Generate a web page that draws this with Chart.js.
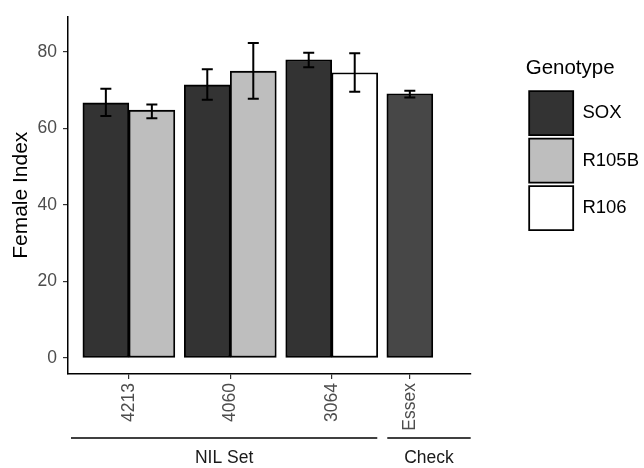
<!DOCTYPE html>
<html>
<head>
<meta charset="utf-8">
<script src="https://cdn.jsdelivr.net/npm/chart.js@4.4.1/dist/chart.umd.min.js"></script>
<style>
  html, body { margin: 0; padding: 0; background: #fff; }
</style>
</head>
<body>
<canvas id="chart" width="644" height="468"></canvas>
<script>
// Female index by NIL set and genotype, Essex as the check

const lines = ['4213', '4060', '3064', 'Essex'];
const linePos = [1, 2, 3, 3.77];
const lineGroup = ['NIL Set', 'NIL Set', 'NIL Set', 'Check'];

const soxMean = [66.7, 71.4, 78.0, null];
const soxLow  = [63.3, 67.5, 76.0, null];
const soxHigh = [70.4, 75.5, 79.8, null];

const r105bMean = [64.8, 75.0, null, null];
const r105bLow  = [62.7, 67.8, null, null];
const r105bHigh = [66.3, 82.4, null, null];

const r106Mean = [null, null, 74.6, null];
const r106Low  = [null, null, 69.6, null];
const r106High = [null, null, 79.7, null];

const checkMean = [null, null, null, 69.1];
const checkLow  = [null, null, null, 68.1];
const checkHigh = [null, null, null, 69.9];

const yTicks = [0, 20, 40, 60, 80];
const genotypes = ['SOX', 'R105B', 'R106'];

Chart.defaults.font.family = "'Liberation Sans', Arial, sans-serif";

function makeSet(label, means, lows, highs, fill) {
    return {
        label: label,
        data: means.map((v, i) => ({ x: linePos[i], y: v })),
        low: lows,
        high: highs,
        backgroundColor: fill,
        borderColor: '#000',
        borderWidth: 1.8,
        borderSkipped: false,
        barThickness: 46,
        skipNull: true
    };
}

// whiskers on top of the bars
const errorBars = {
    id: 'errorBars',
    afterDatasetsDraw(chart) {
        const ctx = chart.ctx;
        const yScale = chart.scales.y;
        ctx.save();
        ctx.strokeStyle = '#000';
        ctx.lineWidth = 2;
        chart.data.datasets.forEach((ds, di) => {
            const meta = chart.getDatasetMeta(di);
            meta.data.forEach((bar, i) => {
                if (ds.low[i] == null) return;
                const top = yScale.getPixelForValue(ds.high[i]);
                const bot = yScale.getPixelForValue(ds.low[i]);
                const cap = 5.5;
                ctx.beginPath();
                ctx.moveTo(bar.x, top); ctx.lineTo(bar.x, bot);
                ctx.moveTo(bar.x - cap, top); ctx.lineTo(bar.x + cap, top);
                ctx.moveTo(bar.x - cap, bot); ctx.lineTo(bar.x + cap, bot);
                ctx.stroke();
            });
        });
        ctx.restore();
    }
};

// group strips under the x labels (NIL Set / Check)
const groupStrips = {
    id: 'groupStrips',
    afterDraw(chart) {
        const { ctx, chartArea } = chart;
        const names = [...new Set(lineGroup)];
        const spans = names.map(name => {
            let left = Infinity, right = -Infinity;
            chart.data.datasets.forEach((ds, di) => {
                chart.getDatasetMeta(di).data.forEach((bar, i) => {
                    if (lineGroup[i] !== name || ds.data[i].y == null) return;
                    left = Math.min(left, bar.x - bar.width / 2);
                    right = Math.max(right, bar.x + bar.width / 2);
                });
            });
            return { left, right };
        });
        const lineY = chartArea.bottom + 64;
        const textY = chartArea.bottom + 84;
        ctx.save();
        ctx.strokeStyle = '#000';
        ctx.lineWidth = 1.5;
        ctx.fillStyle = '#1a1a1a';
        ctx.font = "17.5px 'Liberation Sans', Arial, sans-serif";
        ctx.textAlign = 'center';
        ctx.textBaseline = 'middle';
        names.forEach((name, k) => {
            let a = k === 0 ? chartArea.left + 3 : (spans[k - 1].right + spans[k].left) / 2 + 5;
            let b = k === names.length - 1 ? chartArea.right : (spans[k].right + spans[k + 1].left) / 2 - 5;
            ctx.beginPath();
            ctx.moveTo(a, lineY);
            ctx.lineTo(b, lineY);
            ctx.stroke();
            ctx.fillText(name, (a + b) / 2, textY);
        });
        ctx.restore();
    }
};

const ctx = document.getElementById('chart').getContext('2d');
new Chart(ctx, {
    type: 'bar',
    data: {
        datasets: [
            makeSet('SOX', soxMean, soxLow, soxHigh, '#333333'),
            makeSet('R105B', r105bMean, r105bLow, r105bHigh, '#bebebe'),
            makeSet('R106', r106Mean, r106Low, r106High, '#ffffff'),
            makeSet('Check', checkMean, checkLow, checkHigh, '#474747')
        ]
    },
    options: {
        responsive: false,
        animation: false,
        layout: { padding: { top: 12, right: -5, bottom: 0, left: 0 } },
        scales: {
            x: {
                type: 'linear',
                min: 0.4,
                max: 4.37,
                offset: false,
                afterBuildTicks: s => { s.ticks = linePos.map(v => ({ value: v })); },
                ticks: {
                    callback: (v, i) => lines[i],
                    autoSkip: false,
                    minRotation: 90,
                    maxRotation: 90,
                    padding: 4,
                    color: '#4d4d4d',
                    font: { size: 17.5 }
                },
                grid: { offset: false, drawOnChartArea: false, tickLength: 5, color: '#333', lineWidth: 1.2 },
                border: { color: '#000', width: 1.5 },
                afterFit: s => { s.height = 94; }
            },
            y: {
                min: -4.2,
                max: 89.3,
                afterBuildTicks: s => { s.ticks = yTicks.map(v => ({ value: v })); },
                ticks: { padding: 6, color: '#4d4d4d', font: { size: 17.5 } },
                grid: { drawOnChartArea: false, tickLength: 5, color: '#333', lineWidth: 1.2 },
                border: { color: '#000', width: 1.5 },
                title: {
                    display: true,
                    text: 'Female Index',
                    color: '#000',
                    font: { size: 21 },
                    padding: { top: 9, bottom: 0 }
                },
                afterFit: s => { s.width = 68; }
            },
            y2: {
                position: 'right',
                grid: { display: false },
                border: { display: false },
                ticks: { display: false },
                afterFit: s => { s.width = 55; }
            }
        },
        plugins: {
            tooltip: { enabled: false },
            legend: {
                position: 'right',
                align: 'start',
                maxWidth: 140,
                title: {
                    display: true,
                    text: 'Genotype',
                    position: 'start',
                    color: '#000',
                    font: { size: 20.5 },
                    padding: { top: 46, bottom: 5 }
                },
                labels: {
                    boxWidth: 44,
                    boxHeight: 44,
                    padding: 3.5,
                    color: '#000',
                    font: { size: 18.5 },
                    filter: item => genotypes.includes(item.text)
                }
            }
        }
    },
    plugins: [errorBars, groupStrips]
});
</script>
</body>
</html>
